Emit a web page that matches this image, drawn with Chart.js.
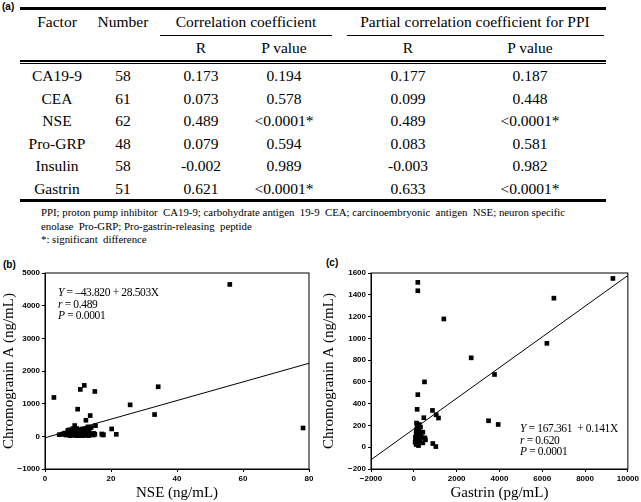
<!DOCTYPE html>
<html>
<head>
<meta charset="utf-8">
<script src="https://cdn.jsdelivr.net/npm/chart.js@4.4.0/dist/chart.umd.min.js"></script>
<style>
  body { margin: 0; background: #fff; width: 641px; height: 502px; position: relative; overflow: hidden; font-family: "Liberation Serif", serif; color: #000; }
  .c { position: absolute; white-space: nowrap; font-size: 15.5px; transform: translate(-50%, -50%); }
  .ln { position: absolute; background: #000; }
  .tag { position: absolute; font-family: "Liberation Sans", sans-serif; font-weight: bold; font-size: 10px; }
  .note { position: absolute; font-size: 10.8px; white-space: nowrap; }
  .eq { position: absolute; font-size: 11.5px; letter-spacing: -0.35px; line-height: 11.5px; white-space: nowrap; }
  canvas { position: absolute; }
</style>
</head>
<body>

<div class="tag" style="left:2px;top:1px">(a)</div>
<div id="table"></div>

<div class="note" style="left:41px;top:206px">PPI; proton pump inhibitor&nbsp; CA19-9; carbohydrate antigen&nbsp; 19-9&nbsp; CEA; carcinoembryonic&nbsp; antigen&nbsp; NSE; neuron specific</div>
<div class="note" style="left:41px;top:220px">enolase&nbsp; Pro-GRP; Pro-gastrin-releasing&nbsp; peptide</div>
<div class="note" style="left:41px;top:233px">*: significant&nbsp; difference</div>

<div class="tag" style="left:3px;top:259px">(b)</div>
<div class="tag" style="left:326px;top:257px">(c)</div>

<div style="position:absolute;left:0;top:260px;width:320px;height:242px"><canvas id="chartB"></canvas></div>
<div style="position:absolute;left:320px;top:260px;width:321px;height:242px"><canvas id="chartC"></canvas></div>

<div class="eq" style="left:58px;top:287px"><i>Y</i> = &ndash;43.820 + 28.503X<br><i>r</i> = 0.489<br><i>P</i> = 0.0001</div>
<div class="eq" style="left:520px;top:423px"><i>Y</i> = 167.361&nbsp; + 0.141X<br><i>r</i> = 0.620<br><i>P</i> = 0.0001</div>

<script>
// table (a)
var factors = ['CA19-9', 'CEA', 'NSE', 'Pro-GRP', 'Insulin', 'Gastrin'];
var numbers = ['58', '61', '62', '48', '58', '51'];
var corrR = ['0.173', '0.073', '0.489', '0.079', '-0.002', '0.621'];
var corrP = ['0.194', '0.578', '<0.0001*', '0.594', '0.989', '<0.0001*'];
var partR = ['0.177', '0.099', '0.489', '0.083', '-0.003', '0.633'];
var partP = ['0.187', '0.448', '<0.0001*', '0.581', '0.982', '<0.0001*'];

// (b) NSE vs chromogranin A
var nseX = [56.0, 78.2, 2.7, 10.7, 11.9, 15.1, 34.3, 25.8, 33.2, 9.9, 13.7, 12.4, 15.3, 20.2, 21.6, 17.7, 17.2, 15.1,
  4.3, 5.1, 6.1, 6.6, 7.1, 7.4, 7.8, 8.2, 8.6, 9.0, 9.2, 9.6, 9.8, 10.2, 10.6, 11.0, 11.2, 11.6, 12.0, 12.4, 12.8,
  13.0, 13.4, 13.8, 14.0, 10.6, 8.4, 7.6, 9.4, 11.4, 5.6, 6.9, 8.0, 10.0, 12.2, 14.6, 6.3, 9.1, 11.8, 13.2, 7.2,
  14.8, 17.5, 10.4];
var nseY = [4650, 256, 1190, 1436, 1559, 1374, 1518, 964, 667, 831, 636, 492, 328, 226, 62, 51, 72, 62,
  50, 60, 100, 60, 130, 200, 100, 60, 160, 330, 80, 240, 40, 130, 20, 100, 225, 50, 130, 235, 60,
  290, 165, 80, 270, 150, 235, 20, 20, 20, 80, 180, 30, 190, 30, 40, 40, 140, 170, 20, 70,
  90, 40, 60];
var lineB = [{x: 0, y: -44}, {x: 80, y: 2236}];

// (c) gastrin vs chromogranin A
var gasX = [9300, 187, 187, 1402, 2680, 3770, 6216, 6544, 499, 187, 156, 872, 467, 1044, 1153, 3490, 3942, 888, 1028, 156, 125,
  187, 156, 125, 203, 93, 171, 265, 358, 421, 312, 234, 421, 514, 109, 140, 265, 218, 545, 78, 109, 250, 62, 140, 200,
  290, 170, 120, 330, 230, 100];
var gasY = [1550, 1514, 1437, 1178, 821, 668, 954, 1369, 600, 483, 348, 338, 271, 298, 268, 243, 209, 34, 6, 197, 222,
  169, 138, 114, 92, 62, 31, 117, 92, 40, 185, 154, 138, 86, 25, 77, 62, 15, 68, 92, 129, 209, 46, 100, 50,
  75, 190, 160, 110, 30, 85];
var lineC = [{x: -2000, y: -115}, {x: 10000, y: 1577}];

// build the table
var tb = document.getElementById('table');
function cell(txt, x, y) {
  var d = document.createElement('div');
  d.className = 'c';
  d.style.left = x + 'px';
  d.style.top = y + 'px';
  d.textContent = txt;
  tb.appendChild(d);
}
function rule(x, y, w, h) {
  var d = document.createElement('div');
  d.className = 'ln';
  d.style.left = x + 'px'; d.style.top = y + 'px';
  d.style.width = w + 'px'; d.style.height = h + 'px';
  tb.appendChild(d);
}
var colX = [57, 123, 201, 284, 408, 530];
rule(20, 7, 586, 3);
cell('Factor', colX[0], 22);
cell('Number', colX[1], 22);
cell('Correlation coefficient', 246, 22);
cell('Partial correlation coefficient for PPI', 475, 22);
rule(160, 35, 172, 1);
rule(347, 35, 257, 1);
cell('R', colX[2], 48);
cell('P value', colX[3], 48);
cell('R', colX[4], 48);
cell('P value', colX[5], 48);
rule(20, 60, 586, 1.5);
rule(20, 62.5, 586, 1);
for (var i = 0; i < factors.length; i++) {
  var y = 76 + i * 22.6;
  cell(factors[i], colX[0], y);
  cell(numbers[i], colX[1], y);
  cell(corrR[i], colX[2], y);
  cell(corrP[i], colX[3], y);
  cell(partR[i], colX[4], y);
  cell(partP[i], colX[5], y);
}
rule(20, 199, 586, 3);

// charts
function toPts(xs, ys) {
  return xs.map(function (x, i) { return {x: x, y: ys[i]}; });
}
var frame = {
  id: 'frame',
  afterDraw: function (chart) {
    var a = chart.chartArea, ctx = chart.ctx;
    ctx.save();
    ctx.strokeStyle = '#000';
    ctx.lineWidth = 1;
    ctx.strokeRect(a.left, a.top, a.right - a.left, a.bottom - a.top);
    ctx.restore();
  }
};
function fmt(v) { return v < 0 ? '\u2212' + (-v) : '' + v; }
var tickFont = {family: 'Liberation Sans', size: 8, weight: 'bold'};
var titleFont = {family: 'Liberation Serif', size: 15};

function scatter(id, pts, line, xs, ys, padRight, yWidth) {
  new Chart(document.getElementById(id), {
    type: 'scatter',
    data: {
      datasets: [{
        data: pts,
        pointStyle: 'rect',
        pointRadius: 3.3,
        backgroundColor: '#000',
        borderWidth: 0
      }, {
        type: 'line',
        data: line,
        borderColor: '#000',
        borderWidth: 1,
        pointRadius: 0
      }]
    },
    options: {
      responsive: true,
      maintainAspectRatio: false,
      animation: false,
      layout: {padding: {top: 13, right: padRight, left: 0, bottom: 0}},
      plugins: {legend: {display: false}, tooltip: {enabled: false}},
      scales: {
        x: {
          type: 'linear', min: xs.min, max: xs.max,
          ticks: {stepSize: xs.step, font: tickFont, color: '#000', padding: 2, callback: fmt},
          grid: {drawOnChartArea: false, tickLength: 3, color: '#000'},
          border: {color: '#000'},
          title: {display: true, text: xs.title, font: titleFont, color: '#000', padding: 0},
          afterFit: function (s) { s.height = 33; }
        },
        y: {
          type: 'linear', min: ys.min, max: ys.max,
          ticks: {stepSize: ys.step, font: tickFont, color: '#000', padding: 2, callback: fmt},
          grid: {drawOnChartArea: false, tickLength: 3, color: '#000'},
          border: {color: '#000'},
          title: {display: true, text: 'Chromogranin A (ng/mL)', font: titleFont, color: '#000', padding: 0},
          afterFit: function (s) { s.width = yWidth; }
        }
      }
    },
    plugins: [frame]
  });
}

scatter('chartB', toPts(nseX, nseY), lineB,
  {min: 0, max: 80, step: 20, title: 'NSE (ng/mL)'},
  {min: -1000, max: 5000, step: 1000}, 11, 45);
scatter('chartC', toPts(gasX, gasY), lineC,
  {min: -2000, max: 10000, step: 2000, title: 'Gastrin (pg/mL)'},
  {min: -200, max: 1600, step: 200}, 13, 51);
</script>
</body>
</html>
